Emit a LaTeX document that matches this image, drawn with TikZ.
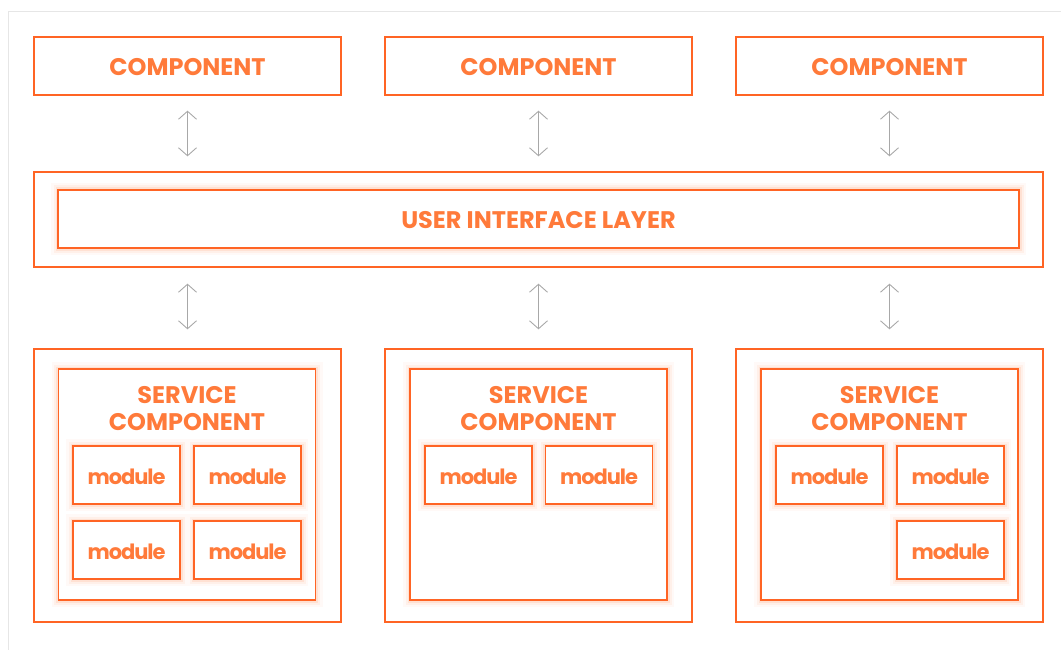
\documentclass[tikz,border=0pt]{standalone}
\usepackage{fontspec}
\setmainfont{Poppins}
\usetikzlibrary{arrows.meta}
\definecolor{edgeor}{HTML}{FF6424}
\definecolor{textor}{HTML}{FF7A3A}
\definecolor{glowor}{HTML}{FF7A3A}
\definecolor{arrowgray}{HTML}{A8A8A8}
\definecolor{framegray}{HTML}{E6E6E6}
\newcommand\capsfont{\bfseries\fontsize{24}{27}\selectfont}
\newcommand\modfont{\bfseries\fontsize{21}{23}\selectfont\addfontfeature{LetterSpace=-5}}
\tikzset{
  plainbox/.style={draw=edgeor, line width=1.3pt, fill=white, inner sep=0pt,
    text=textor, font=\capsfont, text height=20pt, text depth=0pt},
  glowbox/.style={plainbox,
    preaction={draw=glowor, line width=14pt, draw opacity=0.04},
    preaction={draw=glowor, line width=9pt, draw opacity=0.07},
    preaction={draw=glowor, line width=5pt, draw opacity=0.12}},
  compbox/.style={plainbox, minimum width=307pt, minimum height=58pt},
  modbox/.style={glowbox, minimum width=107pt, minimum height=58pt, font=\modfont,
    text height=18.6pt},
  svcouter/.style={plainbox, minimum width=307pt, minimum height=273pt},
  svcinner/.style={glowbox, minimum width=257pt, minimum height=231pt},
  svctitle/.style={text=textor, align=center, inner sep=0pt, font=\capsfont},
  link/.style={draw=arrowgray, line width=0.9pt,
    {Straight Barb[length=8pt,width=18pt]}-{Straight Barb[length=8pt,width=18pt]}}
}
\begin{document}
\begin{tikzpicture}[x=1pt,y=-1pt]
  \useasboundingbox (0,0) rectangle (1061,650);
  % light page frame
  \draw[framegray, line width=1pt] (1061,12) -- (8,12) -- (8,650);

  % top components
  \node[compbox] (c1) at (187.5,66) {COMPONENT};
  \node[compbox] (c2) at (538.5,66) {COMPONENT};
  \node[compbox] (c3) at (889.5,66) {COMPONENT};

  % user interface layer
  \node[plainbox, minimum width=1009pt, minimum height=95pt] (uo) at (538.5,219.5) {};
  \node[glowbox, minimum width=961pt, minimum height=58pt] (ui) at (538.5,219) {USER INTERFACE LAYER};

  % service column 1
  \node[svcouter] (s1o) at (187.5,485.5) {};
  \node[svcinner] (s1i) at (187,484.5) {};
  \node[svctitle] (t1) at (187,408.5) {SERVICE\\COMPONENT};
  \node[modbox] (m11) at (126.5,475) {module};
  \node[modbox] (m12) at (247.5,475) {module};
  \node[modbox] (m13) at (126.5,550) {module};
  \node[modbox] (m14) at (247.5,550) {module};

  % service column 2
  \node[svcouter] (s2o) at (538.5,485.5) {};
  \node[svcinner] (s2i) at (538.5,484.5) {};
  \node[svctitle] (t2) at (538.5,408.5) {SERVICE\\COMPONENT};
  \node[modbox] (m21) at (478.5,475) {module};
  \node[modbox] (m22) at (599,475) {module};

  % service column 3
  \node[svcouter] (s3o) at (889.5,485.5) {};
  \node[svcinner] (s3i) at (889.5,484.5) {};
  \node[svctitle] (t3) at (889.5,408.5) {SERVICE\\COMPONENT};
  \node[modbox] (m31) at (829.5,475) {module};
  \node[modbox] (m32) at (950.5,475) {module};
  \node[modbox] (m33) at (950.5,550) {module};

  % connections
  \foreach \c in {c1,c2,c3}
    \draw[link, shorten <=15pt, shorten >=15pt] (\c.south) -- (\c.south |- uo.north);
  \foreach \s in {s1o,s2o,s3o}
    \draw[link, shorten <=16pt, shorten >=19pt] (uo.south -| \s.north) -- (\s.north);
\end{tikzpicture}
\end{document}
